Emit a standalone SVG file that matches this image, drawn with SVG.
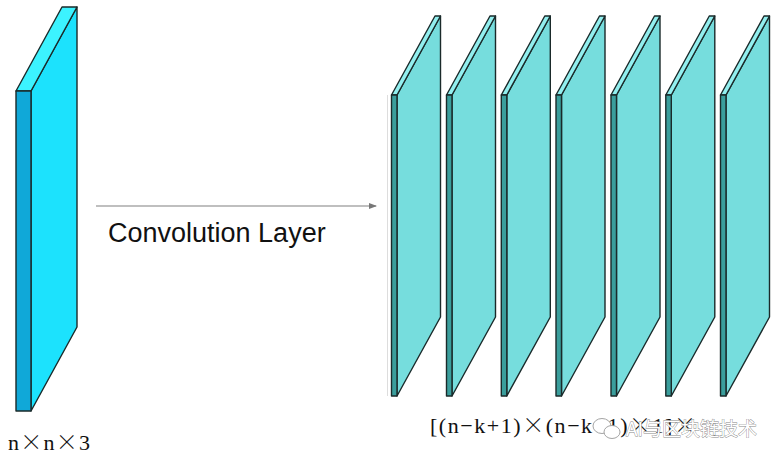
<svg xmlns="http://www.w3.org/2000/svg" width="784" height="464" viewBox="0 0 784 464">
<style>
.edge{stroke:#1a2a2a;stroke-width:1.4;stroke-linejoin:round}
.bf{fill:#10A8D8}.bs{fill:#1CE2FD}.bt{fill:#3CF3FF}
.pf{fill:#3A9E9C}.ps{fill:#76DDDD}.pt{fill:#92EFEF}
.lbl{font-family:"Liberation Serif","Noto Sans CJK SC",serif;font-size:22px;fill:#111}
.x{font-family:"Noto Sans CJK SC",sans-serif;font-weight:300}
.conv{font-family:"Liberation Sans",Arial,sans-serif;font-size:27px;fill:#111}
.wm{font-family:"Noto Sans CJK SC","Liberation Sans",sans-serif;font-size:19px;fill:#fff;stroke:#888;stroke-width:0.8;paint-order:stroke}
</style>
<defs>
<marker id="ah" markerWidth="8" markerHeight="6" refX="7" refY="3" orient="auto" markerUnits="userSpaceOnUse">
<path d="M0,0 L8,3 L0,6 Z" fill="#777"/>
</marker>
<g id="panel">
<polygon class="ps edge" points="5.5,95 49,16 49,317 5.5,396"/>
<polygon class="pt edge" points="0,95 43.5,16 49,16 5.5,95"/>
<polygon class="pf edge" points="0,95 5.5,95 5.5,396 0,396"/>
</g>
</defs>
<rect width="784" height="464" fill="#fff"/>
<g id="input">
<polygon class="bs edge" points="31,91 77,7 77,327 31,411"/>
<polygon class="bt edge" points="16,91 62,7 77,7 31,91"/>
<polygon class="bf edge" points="16,91 31,91 31,411 16,411"/>
</g>
<line x1="387.5" y1="95" x2="387.5" y2="396" stroke="#ddd" stroke-width="1"/>
<g id="out1"><use href="#panel" transform="translate(391.5,0)"/></g>
<g id="out2"><use href="#panel" transform="translate(446.5,0)"/></g>
<g id="out3"><use href="#panel" transform="translate(501.3,0)"/></g>
<g id="out4"><use href="#panel" transform="translate(556,0)"/></g>
<g id="out5"><use href="#panel" transform="translate(611,0)"/></g>
<g id="out6"><use href="#panel" transform="translate(665.8,0)"/></g>
<g id="out7"><use href="#panel" transform="translate(720.5,0)"/></g>
<g id="connectors">
<line x1="96" y1="206" x2="376" y2="206" stroke="#808080" stroke-width="1.1" marker-end="url(#ah)"/>
</g>
<text class="conv" x="108" y="242">Convolution Layer</text>
<text class="lbl" x="8" y="450" textLength="82" lengthAdjust="spacing">n<tspan class="x">×</tspan>n<tspan class="x">×</tspan>3</text>
<text class="lbl" x="430" y="433" textLength="266" lengthAdjust="spacing">[(n−k+1)<tspan class="x">×</tspan>(n−k+1)<tspan class="x">×</tspan>1]<tspan class="x">×</tspan></text>
<g id="watermark" fill="none" stroke="#999" stroke-width="0.9">
<ellipse cx="602" cy="426" rx="9" ry="7.5" fill="#fff"/>
<ellipse cx="612" cy="432" rx="8" ry="6.5" fill="#fff"/>
</g>
<text class="wm" x="626" y="436">AI与区块链技术</text>
</svg>
